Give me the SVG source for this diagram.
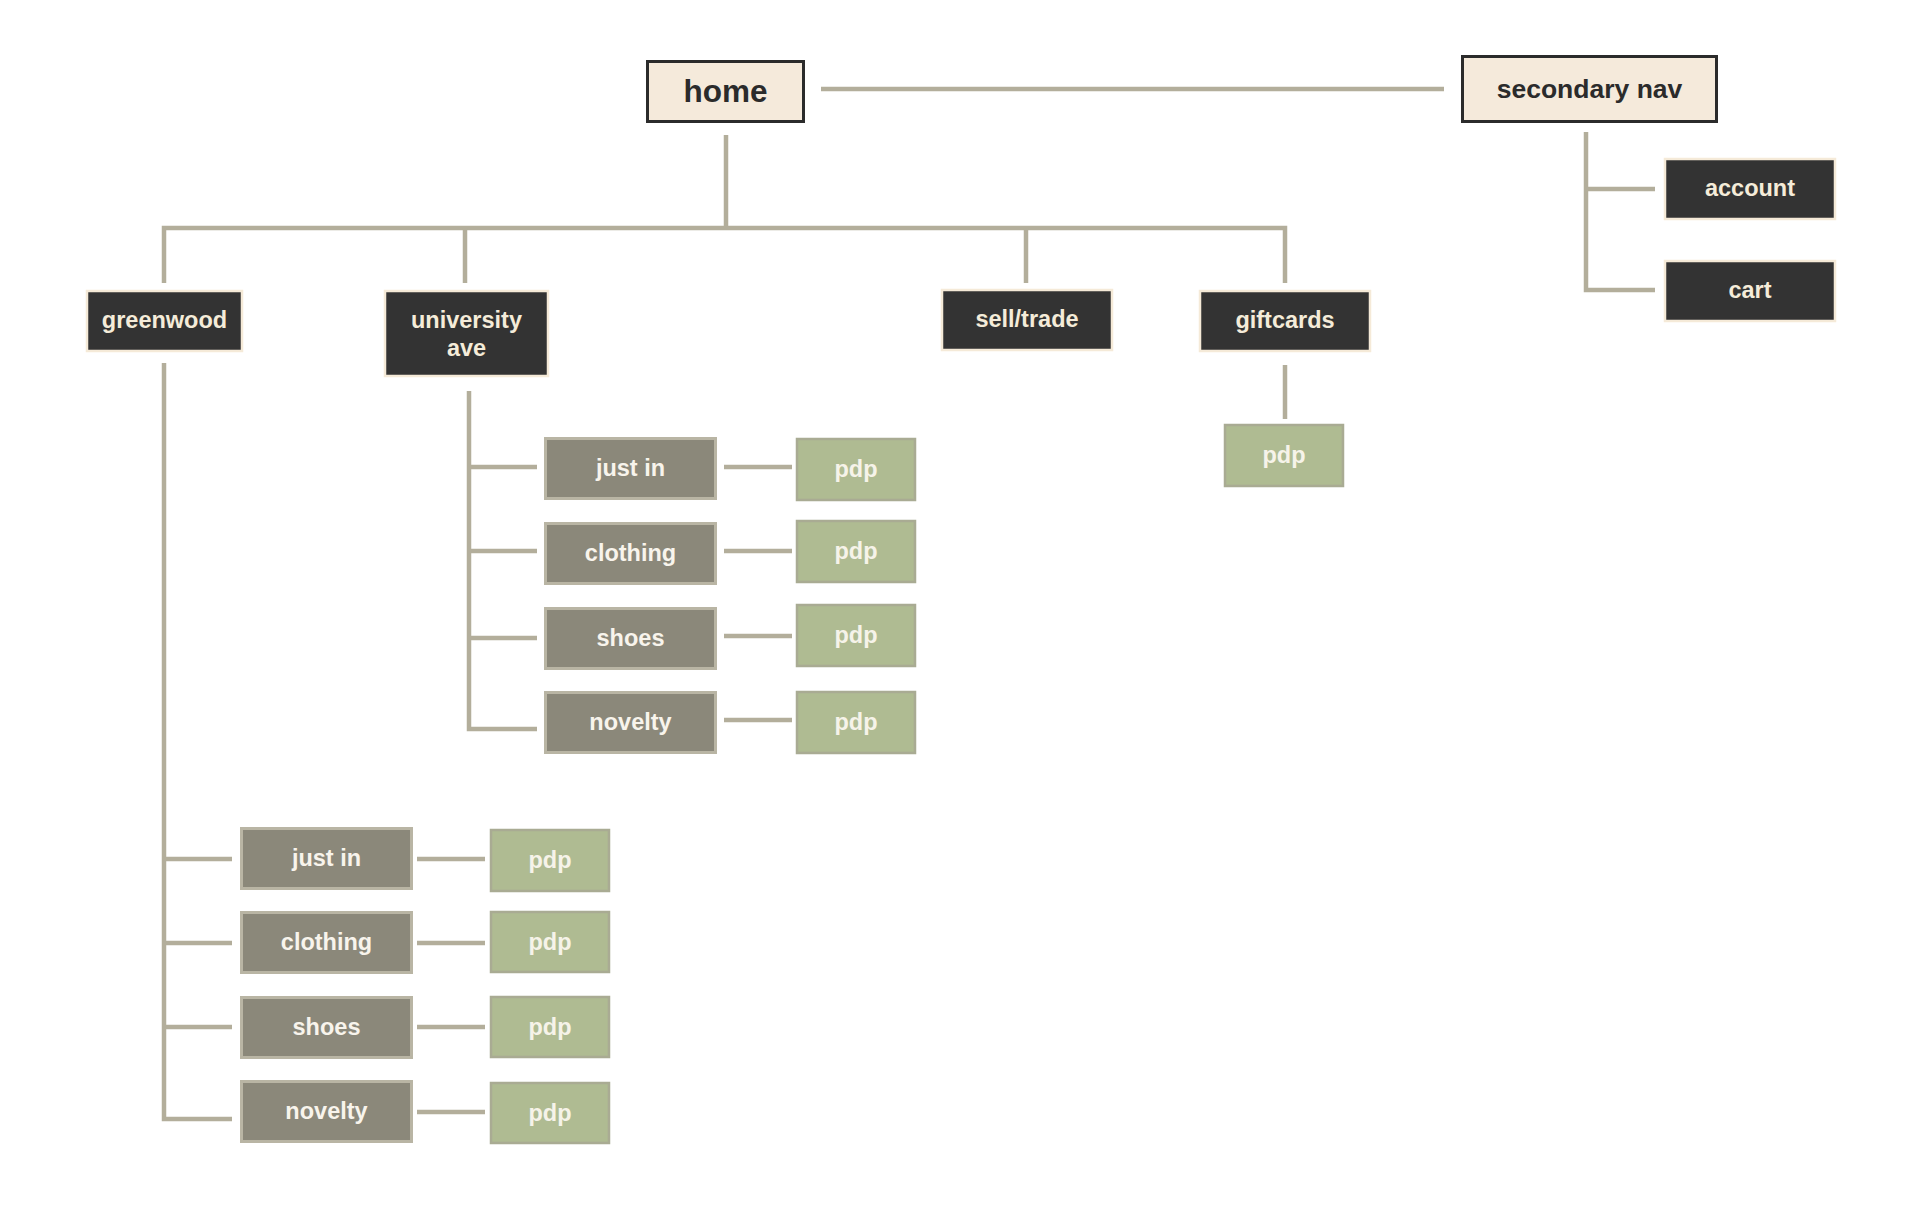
<svg xmlns="http://www.w3.org/2000/svg" width="1920" height="1222" viewBox="0 0 1920 1222">
<style>
text{font-family:"Liberation Sans",Arial,sans-serif;font-weight:bold;text-anchor:middle}
.top rect{fill:#f5eadb;stroke:#2b2b2b;stroke-width:3}
.top text{fill:#2b2b2b}
.dark rect{fill:#333333;stroke:#f5ead8;stroke-width:2.5}
.dark text{fill:#f5ecd9;font-size:23.5px}
.cat rect{fill:#8b887a;stroke:#b9b5a4;stroke-width:3}
.cat text{fill:#f8f4ec;font-size:23.5px}
.pdp rect{fill:#afbb92;stroke:#a9ab93;stroke-width:2.5}
.pdp text{fill:#f6f3e9;font-size:23.5px}
#connectors path{fill:none;stroke:#b3ae9b;stroke-width:4.5;stroke-linejoin:miter;stroke-linecap:butt}
</style>
<rect width="1920" height="1222" fill="#ffffff"/>
<g id="connectors">
<path d="M821,89 H1444"/>
<path d="M726,135 V228"/>
<path d="M164,283 V228 H1285 V283"/>
<path d="M465,228 V283"/>
<path d="M1026,228 V283"/>
<path d="M1586,132 V290 H1655"/>
<path d="M1586,189 H1655"/>
<path d="M1285,365 V419"/>
<path d="M469,391 V729 H537"/>
<path d="M469,467 H537"/>
<path d="M469,551 H537"/>
<path d="M469,638 H537"/>
<path d="M724,467 H792"/>
<path d="M724,551 H792"/>
<path d="M724,636 H792"/>
<path d="M724,720 H792"/>
<path d="M164,363 V1119 H232"/>
<path d="M164,859 H232"/>
<path d="M164,943 H232"/>
<path d="M164,1027 H232"/>
<path d="M417,859 H485"/>
<path d="M417,943 H485"/>
<path d="M417,1027 H485"/>
<path d="M417,1112 H485"/>
</g>
<g id="home" class="top"><rect x="647.5" y="61.5" width="156" height="60"/><text x="725.5" y="102" font-size="31.5">home</text></g>
<g id="secondary-nav" class="top"><rect x="1462.5" y="56.5" width="254" height="65"/><text x="1589.5" y="97.5" font-size="26.5">secondary nav</text></g>
<g id="account" class="dark"><rect x="1665" y="159" width="170" height="60"/><text x="1750" y="196">account</text></g>
<g id="cart" class="dark"><rect x="1665" y="261" width="170" height="60"/><text x="1750" y="298">cart</text></g>
<g id="greenwood" class="dark"><rect x="87" y="291" width="155" height="60"/><text x="164.5" y="328">greenwood</text></g>
<g id="university-ave" class="dark"><rect x="385" y="291" width="163" height="85"/><text x="466.5" y="328">university</text><text x="466.5" y="356">ave</text></g>
<g id="sell-trade" class="dark"><rect x="942" y="290" width="170" height="60"/><text x="1027" y="327">sell/trade</text></g>
<g id="giftcards" class="dark"><rect x="1200" y="291" width="170" height="60"/><text x="1285" y="328">giftcards</text></g>
<g id="giftcards-pdp" class="pdp"><rect x="1225" y="425" width="118" height="61"/><text x="1284" y="463">pdp</text></g>
<g id="ua-just-in" class="cat"><rect x="545.5" y="438.5" width="170" height="60"/><text x="630.5" y="476">just in</text></g>
<g id="ua-clothing" class="cat"><rect x="545.5" y="523.5" width="170" height="60"/><text x="630.5" y="561">clothing</text></g>
<g id="ua-shoes" class="cat"><rect x="545.5" y="608.5" width="170" height="60"/><text x="630.5" y="646">shoes</text></g>
<g id="ua-novelty" class="cat"><rect x="545.5" y="692.5" width="170" height="60"/><text x="630.5" y="730">novelty</text></g>
<g id="ua-just-in-pdp" class="pdp"><rect x="797" y="439" width="118" height="61"/><text x="856" y="477">pdp</text></g>
<g id="ua-clothing-pdp" class="pdp"><rect x="797" y="521" width="118" height="61"/><text x="856" y="559">pdp</text></g>
<g id="ua-shoes-pdp" class="pdp"><rect x="797" y="605" width="118" height="61"/><text x="856" y="643">pdp</text></g>
<g id="ua-novelty-pdp" class="pdp"><rect x="797" y="692" width="118" height="61"/><text x="856" y="730">pdp</text></g>
<g id="gw-just-in" class="cat"><rect x="241.5" y="828.5" width="170" height="60"/><text x="326.5" y="866">just in</text></g>
<g id="gw-clothing" class="cat"><rect x="241.5" y="912.5" width="170" height="60"/><text x="326.5" y="950">clothing</text></g>
<g id="gw-shoes" class="cat"><rect x="241.5" y="997.5" width="170" height="60"/><text x="326.5" y="1035">shoes</text></g>
<g id="gw-novelty" class="cat"><rect x="241.5" y="1081.5" width="170" height="60"/><text x="326.5" y="1119">novelty</text></g>
<g id="gw-just-in-pdp" class="pdp"><rect x="491" y="830" width="118" height="61"/><text x="550" y="868">pdp</text></g>
<g id="gw-clothing-pdp" class="pdp"><rect x="491" y="912" width="118" height="60"/><text x="550" y="950">pdp</text></g>
<g id="gw-shoes-pdp" class="pdp"><rect x="491" y="997" width="118" height="60"/><text x="550" y="1035">pdp</text></g>
<g id="gw-novelty-pdp" class="pdp"><rect x="491" y="1083" width="118" height="60"/><text x="550" y="1121">pdp</text></g>
</svg>
